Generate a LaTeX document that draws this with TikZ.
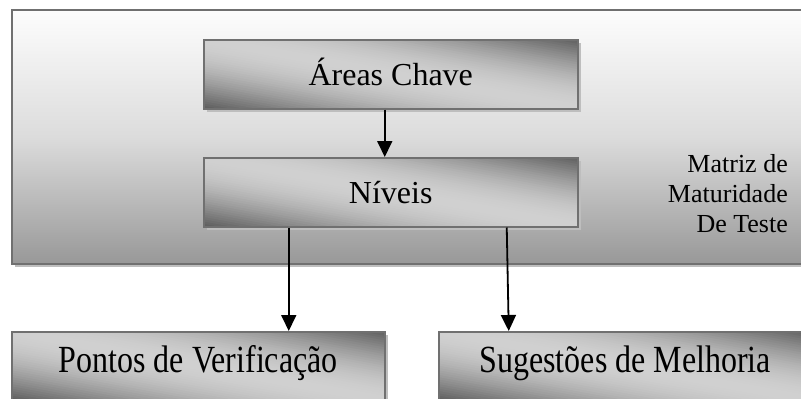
\documentclass[tikz,border=0pt]{standalone}
\usepackage{fontspec}
\setmainfont{Liberation Serif}
\usetikzlibrary{arrows.meta,shadows}

\definecolor{edgegray}{HTML}{707070}
\definecolor{shadowgray}{HTML}{BEBEBE}
\definecolor{darkshade}{HTML}{5E5E5E}
\definecolor{lightshade}{HTML}{D0D0D0}
\definecolor{paneltop}{HTML}{FDFDFD}
\definecolor{panelmid}{HTML}{DCDCDC}
\definecolor{panelbottom}{HTML}{989898}

% shadow plus diagonal metallic gradient for a box given by its
% top-left corner (#1,#2), width #3 and height #4: dark lower-left and
% upper-right corners, light band along the other diagonal
\newcommand\metalbox[4]{%
  \fill[shadowgray] (#1+3.5,#2+3.5) rectangle ++(#3,#4);
  \begin{scope}
    \clip (#1,#2) rectangle ++(#3,#4);
    \begin{scope}[shift={(#1,#2+#4)}, x=#3pt, y=#4pt]
      \foreach \k in {0,...,59}{
        \pgfmathsetmacro\sfrom{\k/30}
        \pgfmathsetmacro\sto{(\k+1.3)/30}
        \pgfmathsetmacro\mixp{100*sin(90*(1-abs((\k+0.5)/30-1)))}
        \fill[lightshade!\mixp!darkshade]
          (\sfrom+1,-1) -- (\sto+1,-1) -- (\sto-2,2) -- (\sfrom-2,2) -- cycle;
      }
    \end{scope}
  \end{scope}}

\tikzset{
  boxshadow/.style={drop shadow={shadow xshift=3.5pt, shadow yshift=-3.5pt,
      fill=shadowgray, opacity=1}},
  panel/.style={draw=edgegray, line width=1.5pt, top color=paneltop,
      bottom color=panelbottom, middle color=panelmid, boxshadow, inner sep=0pt},
  stage/.style={draw=edgegray, line width=1.5pt, inner sep=0pt,
      minimum width=374pt, minimum height=69pt, anchor=north west,
      font=\fontsize{32}{36}\selectfont, text height=23pt, text depth=0pt},
  outcome/.style={stage, minimum width=373pt, text height=13pt},
  caption/.style={align=right, font=\fontsize{26}{30}\selectfont, inner sep=0pt},
  link/.style={-{Triangle[width=15pt,length=16pt]}, line width=1.8pt, black}
}

\begin{document}
\begin{tikzpicture}[x=1pt, y=-1pt]
  \useasboundingbox (0,0) rectangle (801,399);
  \clip (0,0) rectangle (801,399);

  % outer panel holding the maturity matrix
  \node[panel, minimum width=801pt, minimum height=254pt, anchor=north west]
    (matrix) at (11,9) {};

  \metalbox{203}{39}{374}{69}
  \node[stage] (areas) at (203,39) {Áreas Chave};
  \metalbox{203}{157}{374}{69}
  \node[stage] (niveis) at (203,157) {Níveis};

  \node[caption, anchor=base east] (matriz) at (788,232)
    {Matriz de\\Maturidade\\De Teste};

  % results derived from the levels
  \metalbox{11}{331}{373}{69}
  \node[outcome] (pontos) at (11,331)
    {\scalebox{1}[1.2]{Pontos de Verificação}};
  \metalbox{438}{331}{373}{69}
  \node[outcome] (sugestoes) at (438,331)
    {\scalebox{1}[1.2]{Sugestões de Melhoria}};

  \draw[link] ([xshift=-6pt]areas.south) -- ([xshift=-6pt]niveis.north);
  \draw[link] ([xshift=-102pt]niveis.south) -- ([xshift=90.5pt]pontos.north);
  \draw[link] ([xshift=116pt]niveis.south) -- ([xshift=-116.5pt]sugestoes.north);
\end{tikzpicture}
\end{document}
